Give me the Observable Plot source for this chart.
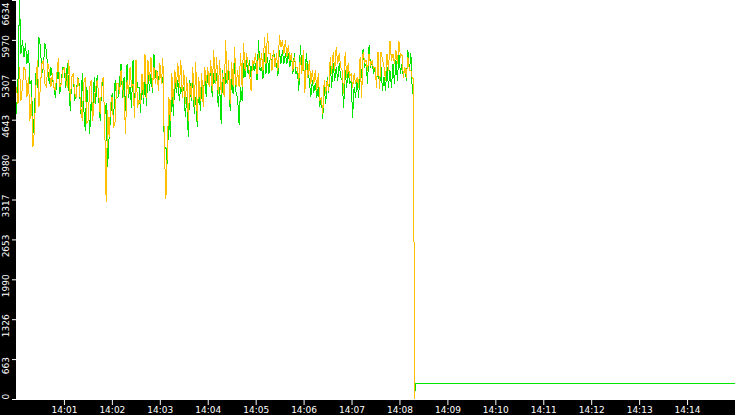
<!DOCTYPE html>
<html>
<head>
<meta charset="utf-8">
<script src="https://cdn.jsdelivr.net/npm/d3@7"></script>
<script src="https://cdn.jsdelivr.net/npm/@observablehq/plot@0.6"></script>
<style>
  html, body { margin: 0; padding: 0; background: black; overflow: hidden; }
</style>
</head>
<body>
<div id="chart"></div>
<script>
// ---- data ----
const startTime = Date.UTC(2024, 0, 1, 14, 0, 0);
const endTime = Date.UTC(2024, 0, 1, 14, 15, 0);
const sampleStepMs = 1870;

const greenValues = [
  4751,5305, 6634,5748, 5970,5693, 5914,5582, 5804,5250, 5305,4419, 4751,5416, 5194,6025, 5859,5416, 5527,5914,
  5804,5471, 5250,5527, 5360,5194, 5028,5305, 5527,5084, 5305,5527, 5499,5194, 5582,5194, 4807,5360, 5416,4973,
  5084,5360, 5250,4751, 5416,4862, 4475,5194, 4917,4419, 4973,4640, 5360,4917, 5388,5028, 4640,5194, 5305,4696,
  4917,3865, 4364,4696, 5084,4640, 5305,5028, 5028,5305, 5582,5028, 5360,4807, 5582,5028, 5194,4862, 5637,4807,
  5471,5194, 5194,4779, 5360,4917, 5333,4890, 5471,5139, 5416,5111, 5748,5360, 5471,5250, 5582,5250, 5360,4142,
  4198,3921, 4862,4364, 5333,4724, 5305,5111, 5305,4973, 5194,5084, 5194,4696, 5028,4364, 5305,4973, 5388,4751,
  5028,4530, 5305,4807, 5194,5028, 5416,5028, 5471,5194, 5527,5028, 5416,5250, 5416,4862, 5194,4585, 5471,5028,
  5416,5250, 5471,4807, 5360,5084, 5637,5084, 5028,4563, 5194,4973, 5582,5360, 5637,5416, 5637,5360, 5637,5471,
  5582,5305, 5970,5471, 5527,5333, 5748,5416, 5693,5416, 5748,5527, 5804,5637, 5582,5388, 5804,5582, 5804,5582,
  5748,5582, 5748,5527, 5748,5416, 5748,5416, 5471,5139, 5887,5527, 5582,5333, 5748,5471, 5305,5028, 5305,5111,
  5250,5028, 5194,4862, 5028,4668, 5194,4917, 5360,5111, 5582,5194, 5582,5305, 5527,5305, 5582,5360, 5305,4851,
  5471,5194, 5471,5250, 5305,4696, 5194,5028, 5333,5028, 5471,5360, 5831,5527, 5582,5250, 5887,5527, 5637,5416,
  5527,5250, 5582,5194, 5527,5139, 5360,5139, 5527,5194, 5471,5194, 5582,5250, 5637,5305, 5748,5416, 5582,5360,
  5527,5305, 5804,5471, 5748,5084
];

const orangeValues = [
  5194,4917, 5527,4973, 5194,5527, 5471,5028, 5360,4640, 5028,4198, 4475,5194, 5637,4862, 5194,5582, 5637,5250,
  5194,5582, 5471,5194, 5416,5194, 5139,5416, 5665,5194, 5250,5471, 5527,5305, 5194,5637, 4973,5360, 5416,5084,
  5028,5360, 5194,4862, 4640,5250, 5360,4585, 4640,5194, 5305,4640, 4973,5194, 5305,5084, 4751,5250, 5360,4640,
  3284,4807, 4364,4917, 5028,4530, 4613,5250, 5250,5084, 5471,5194, 5028,4419, 5305,5084, 5527,5194, 5250,4696,
  5637,4862, 4973,4917, 5416,5028, 5748,5028, 5637,5305, 5693,5194, 5527,5250, 5471,5139, 5582,5250, 5665,4170,
  3339,4198, 5028,4640, 5416,4917, 5471,5194, 5582,5194, 5637,5028, 5471,4917, 5360,4640, 5250,5028, 5527,4862,
  5610,4640, 5360,4973, 5416,4862, 5527,5250, 5527,5194, 5637,5139, 5804,5250, 5693,5084, 5637,5084, 5416,5028,
  5970,5250, 5637,4917, 5610,5194, 5859,5194, 5471,5194, 5748,5194, 5914,5471, 5748,5582, 5416,5139, 5637,5582,
  5748,5416, 5748,5527, 5748,5471, 6025,5582, 6081,5748, 5748,5471, 5804,5527, 5748,5471, 6053,5859, 5970,5748,
  5970,5693, 5887,5637, 5748,5471, 5693,5527, 5527,5305, 5693,5416, 5804,5095, 5582,5360, 5637,5250, 5471,5250,
  5471,5139, 5416,4973, 5028,4751, 5305,5084, 5305,5139, 5693,5416, 5776,5471, 5848,5582, 5748,5527, 5471,5084,
  5776,5360, 5582,5360, 5416,5194, 5416,5250, 5360,5194, 5693,5028, 5776,5610, 5637,5471, 5748,5554, 5637,5499,
  5527,5194, 5776,5167, 5776,5665, 5527,5305, 5748,5471, 5959,5637, 5748,5582, 5804,5582, 5959,5693, 5748,5360,
  5527,5360, 5693,5471, 5471,5333
];

// [seconds after 14:00:00, value] for the drop and what follows it
const greenTail = [[496.9, 5084], [496.95, 2620], [497.8, 2620], [497.85, 155], [499.3, 155], [499.35, 265], [900, 265]];
const orangeTail = [[496.9, 5333], [496.95, 2620], [497.8, 2620], [497.85, 0]];

const yTickValues = [0, 663.4, 1326.8, 1990.2, 2653.6, 3317, 3980.4, 4643.8, 5307.2, 5970.6, 6634];
const yTickLabels = ["0", "663", "1326", "1990", "2653", "3317", "3980", "4643", "5307", "5970", "6634"];
const xTickLabels = ["14:01","14:02","14:03","14:04","14:05","14:06","14:07","14:08","14:09","14:10","14:11","14:12","14:13","14:14"];

// ---- build tables ----
const toRows = (vals, tail) =>
  vals.map((v, i) => ({ t: new Date(startTime + i * sampleStepMs), v }))
      .concat(tail.map(([s, v]) => ({ t: new Date(startTime + s * 1000), v })));
const greenRows = toRows(greenValues, greenTail);
const orangeRows = toRows(orangeValues, orangeTail);
const xTicks = xTickLabels.map(s => {
  const [h, m] = s.split(":").map(Number);
  return new Date(Date.UTC(2024, 0, 1, h, m, 0));
});
const yRows = yTickValues.map((v, i) => ({ v, label: yTickLabels[i] }));

const greenColor = "#00e600";
const orangeColor = "#ffc000";
const labelOpts = { y: "v", text: "label", frameAnchor: "left", dx: -10.5, rotate: -90, fill: "white", fontSize: 9 };
const lineOpts = { x: "t", y: "v", strokeWidth: 1, clip: true, shapeRendering: "crispEdges" };

const chart = Plot.plot({
  width: 735,
  height: 415,
  marginLeft: 16,
  marginRight: 0,
  marginTop: 0,
  marginBottom: 16,
  style: { background: "black", color: "white", fontFamily: "DejaVu Sans", fontSize: "9px" },
  x: { type: "utc", domain: [new Date(startTime), new Date(endTime)], label: null },
  y: { domain: [0, 6634], label: null },
  marks: [
    Plot.frame({ fill: "white", stroke: "white" }),
    Plot.line(greenRows, { ...lineOpts, stroke: greenColor }),
    Plot.line(orangeRows, { ...lineOpts, stroke: orangeColor }),
    Plot.axisX({ ticks: xTicks, tickFormat: (d, i) => xTickLabels[i], tickSize: 6, tickPadding: 1, stroke: "white", fill: "white", label: null, fontSize: 9 }),
    Plot.axisY({ ticks: yTickValues, tickSize: 4, tickFormat: () => "", stroke: "white", label: null }),
    Plot.text(yRows.slice(1, -1), { ...labelOpts, textAnchor: "middle", dy: 6 }),
    Plot.text([yRows[0]], { ...labelOpts, textAnchor: "start", dy: 0 }),
    Plot.text([yRows[yRows.length - 1]], { ...labelOpts, textAnchor: "end", dy: 2 })
  ]
});
document.getElementById("chart").appendChild(chart);
</script>
</body>
</html>
